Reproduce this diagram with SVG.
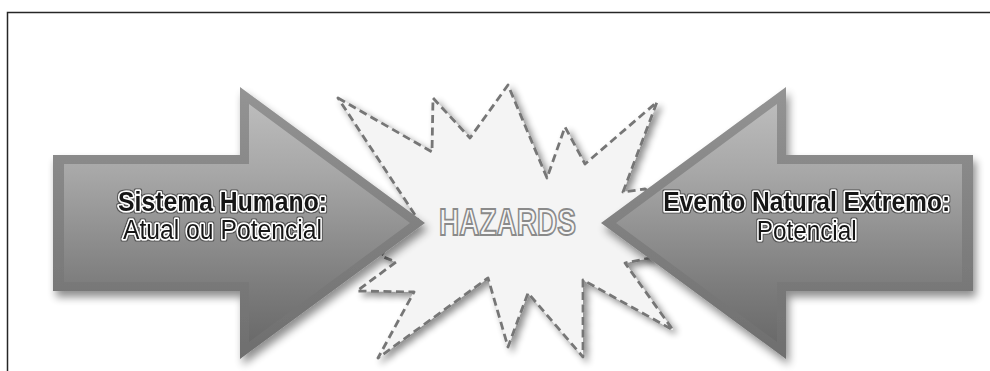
<svg xmlns="http://www.w3.org/2000/svg" width="990" height="371" viewBox="0 0 990 371">
<style>
.frame{stroke:#262626;stroke-width:1.5;fill:none}
.star{fill:#f4f4f4;stroke:#767676;stroke-width:2.8;stroke-dasharray:8 4.5;stroke-linejoin:round}
.rim{fill:url(#rimGrad)}
.face{fill:url(#faceGrad)}
.lbl{font-family:"Liberation Sans",Arial,sans-serif;font-size:27px;fill:#151515;stroke:#fff;stroke-width:3.2;paint-order:stroke;stroke-linejoin:round;text-anchor:middle;filter:url(#ring)}
.b{font-weight:bold}
.haz{font-family:"Liberation Sans",Arial,sans-serif;font-size:37px;font-weight:bold;fill:#f6f6f6;stroke:#8a8a8a;stroke-width:1.9;text-anchor:middle}
</style>
<defs>
<linearGradient id="rimGrad" gradientUnits="userSpaceOnUse" x1="0" y1="87" x2="0" y2="359">
<stop offset="0" stop-color="#949494"/>
<stop offset="1" stop-color="#6e6e6e"/>
</linearGradient>
<linearGradient id="faceGrad" gradientUnits="userSpaceOnUse" x1="0" y1="100" x2="0" y2="345">
<stop offset="0" stop-color="#bdbdbd"/>
<stop offset="0.3" stop-color="#a7a7a7"/>
<stop offset="0.75" stop-color="#7d7d7d"/>
<stop offset="1" stop-color="#696969"/>
</linearGradient>
<filter id="shadow" x="-10%" y="-10%" width="125%" height="130%">
<feGaussianBlur in="SourceAlpha" stdDeviation="4"/>
<feOffset dx="3" dy="6" result="b"/>
<feComponentTransfer><feFuncA type="linear" slope="0.45"/></feComponentTransfer>
<feMerge><feMergeNode/><feMergeNode in="SourceGraphic"/></feMerge>
</filter>
<filter id="starShadow" x="-10%" y="-10%" width="125%" height="130%">
<feGaussianBlur in="SourceAlpha" stdDeviation="3.5"/>
<feOffset dx="4" dy="4" result="b"/>
<feComponentTransfer><feFuncA type="linear" slope="0.45"/></feComponentTransfer>
<feMerge><feMergeNode/><feMergeNode in="SourceGraphic"/></feMerge>
</filter>
<filter id="ring" x="-5%" y="-20%" width="110%" height="140%">
<feMorphology in="SourceAlpha" operator="dilate" radius="0.8" result="d"/>
<feFlood flood-color="#555"/>
<feComposite in2="d" operator="in" result="r"/>
<feMerge><feMergeNode in="r"/><feMergeNode in="SourceGraphic"/></feMerge>
</filter>
</defs>
<rect width="990" height="371" fill="#fff"/>
<g id="frame">
<path class="frame" d="M7.5,371 V12.5 H990"/>
</g>
<g id="hazards">
<path class="star" filter="url(#starShadow)" d="M338,98 L432,152 L433,98 L470,138 L508,85 L547,178 L565,127 L585,164 L657,102 L623,192 L645,189 L662,200 L666,240 L650,258 L625,263 L673,330 L583,280 L583,357 L528,293 L508,347 L488,278 L378,358 L414,292 L357,291 L396,262 L381,256 L400,225 L419,221 Z"/>
<text class="haz" x="507.5" y="235" textLength="137" lengthAdjust="spacingAndGlyphs">HAZARDS</text>
</g>
<g id="arrow-left">
<g filter="url(#shadow)">
<path class="rim" d="M53,155 L240,155 L240,87 L425,223 L240,359 L240,291 L53,291 Z"/>
</g>
<path class="face" d="M64,164 L249,164 L249,104 L410,223 L249,342 L249,282 L64,282 Z"/>
<text class="lbl b" x="222.5" y="211" textLength="209" lengthAdjust="spacingAndGlyphs">Sistema Humano:</text>
<text class="lbl" x="222.5" y="239" textLength="199" lengthAdjust="spacingAndGlyphs">Atual ou Potencial</text>
</g>
<g id="arrow-right">
<g filter="url(#shadow)">
<path class="rim" d="M973,155 L786,155 L786,87 L601,223 L786,359 L786,291 L973,291 Z"/>
</g>
<path class="face" d="M962,164 L777,164 L777,104 L616,223 L777,342 L777,282 L962,282 Z"/>
<text class="lbl b" x="806.7" y="211" textLength="287" lengthAdjust="spacingAndGlyphs">Evento Natural Extremo:</text>
<text class="lbl" x="806.7" y="240" textLength="100" lengthAdjust="spacingAndGlyphs">Potencial</text>
</g>
<g id="connectors"></g>
</svg>
